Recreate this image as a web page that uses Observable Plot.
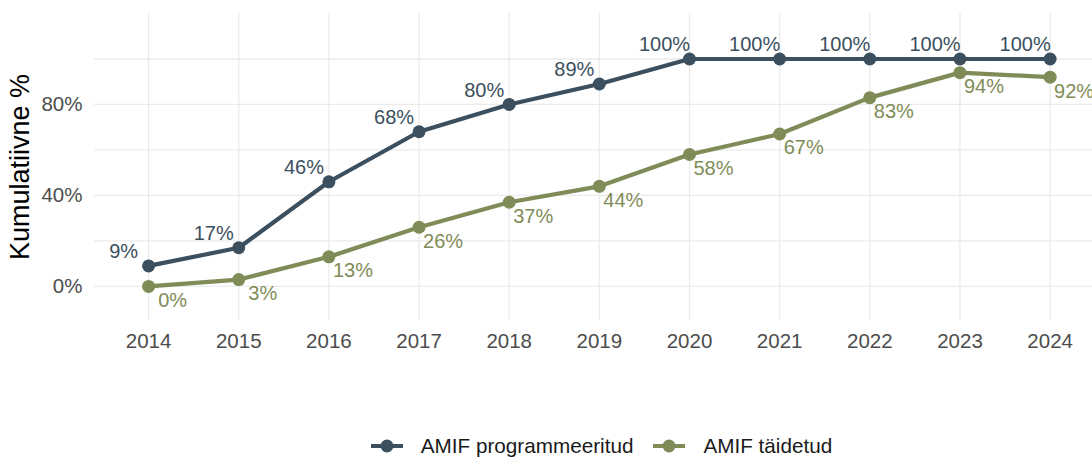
<!DOCTYPE html>
<html>
<head>
<meta charset="utf-8">
<script src="https://cdn.jsdelivr.net/npm/d3@7"></script>
<script src="https://cdn.jsdelivr.net/npm/@observablehq/plot@0.6"></script>
<style>
  html, body { margin: 0; padding: 0; background: #fff; }
  body { width: 1092px; height: 457px; position: relative; overflow: hidden; font-family: "Liberation Sans", Arial, sans-serif; }
  #chart { position: absolute; left: 0; top: 0; }
  #legend { position: absolute; left: 0; width: 1092px; top: 434px; display: flex; justify-content: center; align-items: center; font-size: 20.7px; color: #1a1a1a; padding-left: 110px; box-sizing: border-box; }
  .item { display: flex; align-items: center; margin: 0 9.5px; }
  .item svg { margin-right: 17px; }
</style>
</head>
<body>
<div id="chart"></div>
<div id="legend"></div>
<script>
const years = [2014, 2015, 2016, 2017, 2018, 2019, 2020, 2021, 2022, 2023, 2024];
const programmeeritud = [9, 17, 46, 68, 80, 89, 100, 100, 100, 100, 100];
const taidetud = [0, 3, 13, 26, 37, 44, 58, 67, 83, 94, 92];
const seriesNames = ["AMIF programmeeritud", "AMIF täidetud"];
const seriesColors = ["#3b4f5e", "#7f8c57"];
const yTicks = [0, 40, 80];
const yGrid = [0, 20, 40, 60, 80, 100];
const yTitle = "Kumulatiivne %";

const progData = years.map((y, i) => ({year: y, value: programmeeritud[i], series: seriesNames[0]}));
const taidData = years.map((y, i) => ({year: y, value: taidetud[i], series: seriesNames[1]}));
const data = progData.concat(taidData);

const font = "Liberation Sans, Arial, sans-serif";

const chart = Plot.plot({
  width: 1092,
  height: 400,
  marginLeft: 94,
  marginRight: 0,
  marginTop: 13,
  marginBottom: 80,
  style: {fontFamily: font, background: "#fff"},
  x: {domain: [2013.4, 2024.47], label: null},
  y: {domain: [-15, 120], label: null},
  color: {domain: seriesNames, range: seriesColors},
  marks: [
    Plot.gridY(yGrid, {stroke: "#ebebeb", strokeOpacity: 1, strokeWidth: 1.3}),
    Plot.gridX(years, {stroke: "#ebebeb", strokeOpacity: 1, strokeWidth: 1.3}),
    Plot.axisY(yTicks, {tickSize: 0, tickPadding: 12, tickFormat: d => d + "%", fontSize: 20.5, fill: "#4d4d4d", label: null}),
    Plot.axisX(years, {tickSize: 0, tickPadding: 13, tickFormat: d => String(d), fontSize: 20.5, fill: "#4d4d4d", label: null}),
    Plot.text([yTitle], {frameAnchor: "left", textAnchor: "middle", lineAnchor: "middle", dx: -74, rotate: -90, fontSize: 27, fill: "#000"}),
    Plot.line(data, {x: "year", y: "value", stroke: "series", z: "series", strokeWidth: 4.2}),
    Plot.dot(data, {x: "year", y: "value", fill: "series", r: 6.5}),
    Plot.text(progData, {x: "year", y: "value", text: d => d.value + "%", fill: seriesColors[0], dx: -25, dy: -14, fontSize: 20}),
    Plot.text(taidData, {x: "year", y: "value", text: d => d.value + "%", fill: seriesColors[1], dx: 24, dy: 14, fontSize: 20})
  ]
});
document.getElementById("chart").appendChild(chart);

const legend = document.getElementById("legend");
seriesNames.forEach((name, i) => {
  const item = document.createElement("div");
  item.className = "item";
  item.innerHTML = `<svg width="34" height="20"><line x1="1" x2="33" y1="10" y2="10" stroke="${seriesColors[i]}" stroke-width="4"/><circle cx="17" cy="10" r="6.5" fill="${seriesColors[i]}"/></svg><span>${name}</span>`;
  legend.appendChild(item);
});
</script>
</body>
</html>
